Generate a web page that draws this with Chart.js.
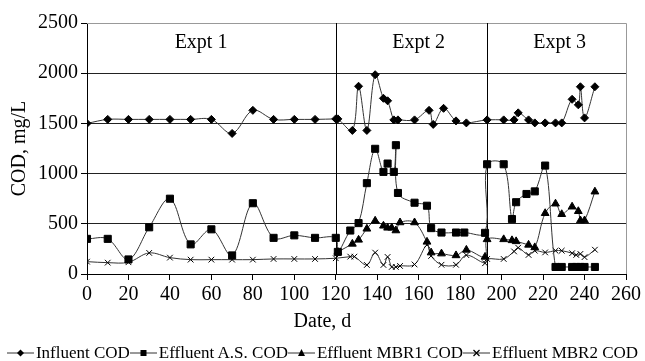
<!DOCTYPE html>
<html>
<head>
<meta charset="utf-8">
<script src="https://cdn.jsdelivr.net/npm/chart.js@4.4.1/dist/chart.umd.min.js"></script>
<style>
  body{margin:0;background:#fff;}
  #wrap{position:relative;width:645px;height:361px;font-family:"Liberation Serif","Times New Roman",serif;color:#000;}
  #chart{position:absolute;left:0;top:0;}
  #xtitle{position:absolute;left:0;top:308px;width:645px;text-align:center;font-size:20px;line-height:24px;}
  #legend{position:absolute;left:0;top:343px;width:645px;text-align:center;font-size:17px;line-height:19px;white-space:nowrap;}
  #legend .item{display:inline-block;}
  #legend svg{vertical-align:middle;margin-right:2px;margin-top:-3px;}
</style>
</head>
<body>
<div id="wrap">
  <canvas id="chart" width="645" height="361"></canvas>
  <div id="xtitle">Date, d</div>
  <div id="legend"></div>
</div>
<script>
/* ---------- data ---------- */
const INF_DAYS = [0,10,20,30,40,50,60,70,80,90,100,110,120,121,128,131,135,139,143,145,148,150,158,165,167,172,178,183,193,201,206,208,213,216,221,226,229,234,237,238,240,245];
const INF_COD  = [1500,1540,1540,1540,1540,1540,1540,1400,1630,1540,1540,1540,1545,1545,1430,1870,1430,1985,1750,1725,1535,1535,1535,1630,1490,1650,1525,1505,1535,1535,1535,1605,1535,1505,1505,1505,1505,1740,1685,1865,1555,1865];

const AS_DAYS = [0,10,20,30,40,50,60,70,80,90,100,110,120,121,127,131,135,139,143,145,148,149,150,158,164,166,171,178,182,192,193,201,205,207,212,216,221,226,229,234,236,238,240,245];
const AS_COD  = [350,350,145,465,750,295,445,185,705,360,385,360,360,220,433,507,905,1247,1017,1100,1017,1283,807,710,680,457,413,413,413,410,1093,1093,547,715,797,823,1080,70,70,70,70,70,70,70];

const MBR1_DAYS = [121,128,131,135,139,143,145,147,149,151,158,164,166,171,178,183,192,193,201,205,207,213,216,221,226,229,234,237,238,240,245];
const MBR1_COD  = [220,300,340,450,530,480,460,460,433,513,513,320,213,203,185,240,170,345,345,335,325,290,265,605,700,595,670,625,533,533,820];

const MBR2_DAYS = [0,10,20,30,40,50,60,70,80,90,100,110,120,127,129,135,139,143,145,147,149,151,158,164,166,171,178,183,192,193,201,206,208,213,216,221,226,229,234,236,238,240,245];
const MBR2_COD  = [123,113,117,210,163,143,143,143,143,150,150,150,157,173,173,90,213,90,170,70,70,80,95,290,180,92,92,188,107,150,150,225,262,190,232,215,232,232,207,190,200,168,242];

const EXPT_NAMES  = ["Expt 1","Expt 2","Expt 3"];
const EXPT_BOUNDS = [120,193];        // day where a new experiment starts
const EXPT_LABEL_AT = [55,160,228];   // day under which each label sits

const FONT = '"Liberation Serif","Times New Roman",serif';

const SERIES = [
  {label:"Influent COD",       days:INF_DAYS,  cod:INF_COD,  style:"rectRot",  r:4},
  {label:"Effluent A.S. COD",  days:AS_DAYS,   cod:AS_COD,   style:"rect",     r:5},
  {label:"Effluent MBR1 COD",  days:MBR1_DAYS, cod:MBR1_COD, style:"triangle", r:4.5},
  {label:"Effluent MBR2 COD",  days:MBR2_DAYS, cod:MBR2_COD, style:"crossRot", r:4}
];

/* ---------- experiment lines + labels ---------- */
const exptPlugin = {
  id:"expts",
  beforeDatasetsDraw(chart){
    const {ctx, chartArea:a, scales:{x}} = chart;
    ctx.save();
    // grey frame on top / right
    ctx.strokeStyle = "#999";
    ctx.lineWidth = 1;
    ctx.beginPath();
    ctx.moveTo(a.left, a.top + 0.5);
    ctx.lineTo(a.right + 0.5, a.top + 0.5);
    ctx.lineTo(a.right + 0.5, a.bottom);
    ctx.stroke();
    // boundaries
    ctx.strokeStyle = "#000";
    EXPT_BOUNDS.forEach(d=>{
      const px = Math.round(x.getPixelForValue(d)) + 0.5;
      ctx.beginPath();
      ctx.moveTo(px, a.top);
      ctx.lineTo(px, a.bottom);
      ctx.stroke();
    });
    ctx.fillStyle = "#000";
    ctx.font = "20px " + FONT;
    ctx.textAlign = "center";
    ctx.textBaseline = "middle";
    EXPT_NAMES.forEach((t,i)=>{
      ctx.fillText(t, x.getPixelForValue(EXPT_LABEL_AT[i]), a.top + 20);
    });
    ctx.restore();
  }
};

new Chart(document.getElementById("chart"), {
  type:"line",
  data:{
    datasets: SERIES.map(s=>({
      label:s.label,
      data:s.days.map((d,i)=>({x:d, y:s.cod[i]})),
      borderColor:"#333",
      borderWidth:1,
      tension:0.35,
      pointStyle:s.style,
      pointRadius:s.r,
      pointHoverRadius:s.r,
      pointBackgroundColor:"#000",
      pointBorderColor:"#000",
      pointBorderWidth:1
    }))
  },
  options:{
    responsive:false,
    animation:false,
    events:[],
    layout:{padding:{left:0, right:19, top:23, bottom:57}},
    plugins:{legend:{display:false}, tooltip:{enabled:false}},
    scales:{
      x:{
        type:"linear", min:0, max:260,
        ticks:{stepSize:20, autoSkip:false, maxRotation:0, color:"#000", padding:3, font:{family:FONT, size:20},
               callback:v=>String(v)},
        grid:{drawOnChartArea:false, color:"#000", tickLength:6},
        border:{color:"#000"},
        afterFit(s){ s.height = 30; }
      },
      y:{
        min:0, max:2500,
        ticks:{stepSize:500, color:"#000", padding:3, font:{family:FONT, size:20},
               callback:v=>String(v)},
        grid:{color:c=>c.tick && c.tick.value===2500 ? "#999" : "#222", tickColor:"#000", tickLength:6},
        border:{color:"#000"},
        title:{display:true, text:"COD, mg/L", color:"#000", font:{family:FONT, size:20}, padding:{top:8, bottom:0}},
        afterFit(s){ s.width = 87; }
      }
    }
  },
  plugins:[exptPlugin]
});

/* ---------- legend (line + marker, like the figure) ---------- */
function markerSvg(style){
  let m = "";
  if(style==="rectRot")  m = '<polygon points="13.5,1.5 17,5 13.5,8.5 10,5" fill="#000"/>';
  if(style==="rect")     m = '<rect x="10.5" y="2" width="6" height="6" fill="#000"/>';
  if(style==="triangle") m = '<polygon points="13.5,1 17,8 10,8" fill="#000"/>';
  if(style==="crossRot") m = '<path d="M10.5,2 L16.5,8 M16.5,2 L10.5,8" stroke="#000" stroke-width="1.2"/>';
  return '<svg width="27" height="10" viewBox="0 0 27 10"><line x1="0" y1="5" x2="27" y2="5" stroke="#333" stroke-width="1"/>' + m + '</svg>';
}
document.getElementById("legend").innerHTML = SERIES.map(s=>
  `<span class="item">${markerSvg(s.style)}${s.label}</span>`).join("");
</script>
</body>
</html>
